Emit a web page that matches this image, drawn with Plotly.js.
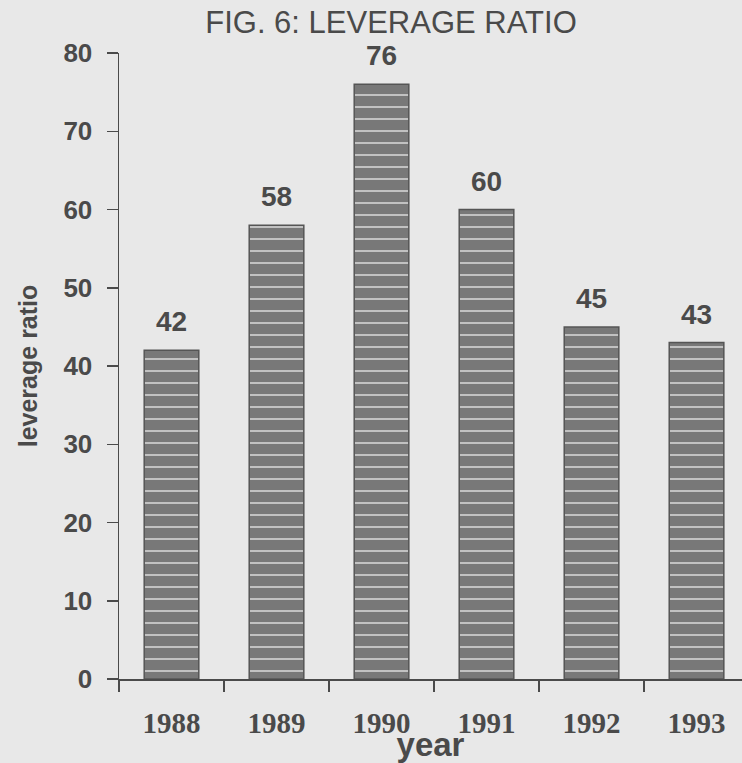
<!DOCTYPE html>
<html><head><meta charset="utf-8">
<script src="https://cdn.plot.ly/plotly-3.0.1.min.js"></script>
<style>html,body{margin:0;padding:0;background:#e8e8e8;}</style>
</head><body>
<div id="chart" style="width:742px;height:763px;"></div>
<script>
const years = ['1988','1989','1990','1991','1992','1993'];
const leverage = [42, 58, 76, 60, 45, 43];
const yTicks = [0,10,20,30,40,50,60,70,80];

const ink = '#4a4a4a';
const sans = 'Liberation Sans, Arial, sans-serif';

const trace = {
  type: 'bar',
  x: years,
  y: leverage,
  width: 0.52,
  marker: {
    color: '#787878',
    line: {color: '#555', width: 1.5},
    pattern: {shape: '-', fgcolor: '#cfcfcf', bgcolor: '#787878', size: 12, solidity: 0.14}
  },
  hoverinfo: 'none'
};

const valueLabels = years.map(function (yr, i) {
  return {
    x: i, y: leverage[i], xref: 'x', yref: 'y',
    text: '<b>' + leverage[i] + '</b>', showarrow: false,
    yanchor: 'bottom', xanchor: 'center', yshift: 12, borderpad: 0,
    font: {family: sans, size: 28, color: ink}
  };
});

const layout = {
  width: 742, height: 763,
  margin: {l: 119, r: 0, t: 53, b: 84},
  paper_bgcolor: '#e8e8e8',
  plot_bgcolor: '#e8e8e8',
  showlegend: false,
  title: {
    text: 'FIG. 6: LEVERAGE RATIO',
    font: {family: sans, size: 31, color: ink},
    x: 391 / 742, xanchor: 'center', xref: 'container',
    y: 1 - 22 / 763, yanchor: 'middle', yref: 'container'
  },
  annotations: valueLabels,
  xaxis: {
    type: 'category',
    range: [-0.5, 5.433],
    showline: true, linecolor: ink, linewidth: 2,
    ticks: 'outside', ticklen: 11, tickcolor: ink, tickwidth: 1.5,
    tickson: 'boundaries',
    ticklabelstandoff: 17,
    showgrid: false,
    tickfont: {family: 'Liberation Serif, Times New Roman, serif', size: 29, color: ink, weight: 'bold'},
    title: {text: 'year', font: {family: sans, size: 33, color: ink, weight: 'bold'}, standoff: 0}
  },
  yaxis: {
    range: [0, 80],
    tickvals: yTicks,
    showline: true, linecolor: ink, linewidth: 1.5,
    ticks: 'outside', ticklen: 11, tickcolor: ink, tickwidth: 1.5,
    ticklabelstandoff: 9,
    showgrid: false, zeroline: false,
    tickfont: {family: sans, size: 26, color: ink, weight: 'bold'},
    title: {text: 'leverage ratio', font: {family: sans, size: 25, color: ink, weight: 'bold'}, standoff: 18}
  }
};

Plotly.newPlot('chart', [trace], layout, {displayModeBar: false, staticPlot: true});
</script>
</body></html>
